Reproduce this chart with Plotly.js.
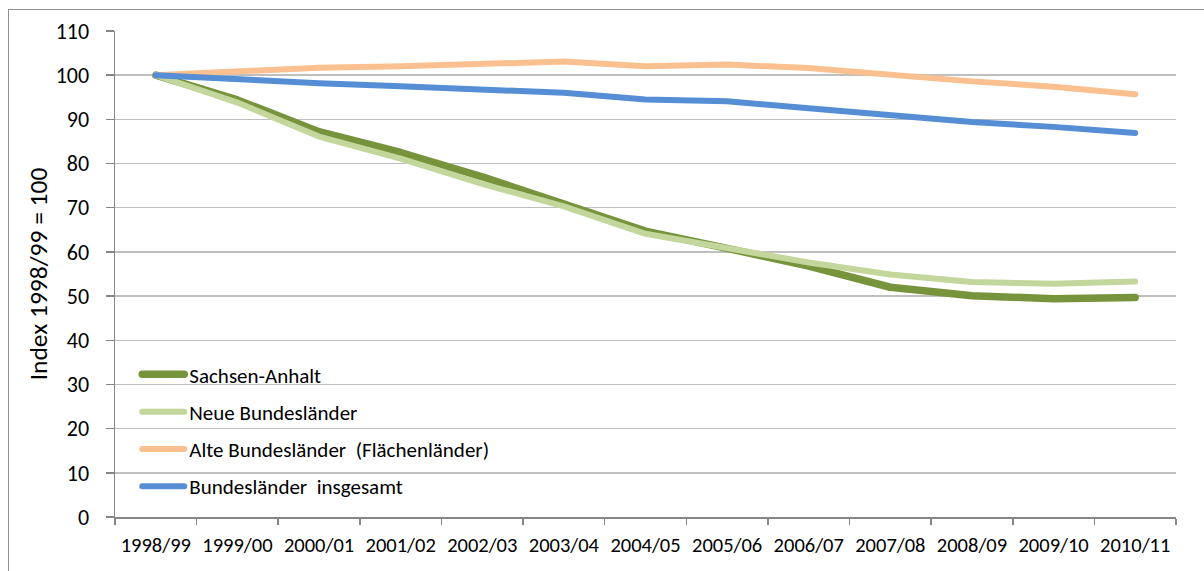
<!DOCTYPE html>
<html>
<head>
<meta charset="utf-8">
<script src="https://cdn.plot.ly/plotly-3.0.1.min.js"></script>
<style>
  html, body { margin: 0; padding: 0; background: #fff; }
  #wrap { position: relative; width: 1204px; height: 571px; overflow: hidden; }
  #chart { position: absolute; left: 0; top: 0; width: 1204px; height: 571px; }
  #frame { position: absolute; left: 8px; top: 9px; width: 1300px; height: 700px;
           border-left: 1.5px solid #909090; border-top: 1.5px solid #909090; pointer-events: none; }
  .scatterlayer .js-line, .legendlines path { stroke-linecap: round; stroke-linejoin: round; }
</style>
</head>
<body>
<div id="wrap">
  <div id="chart"></div>
  <div id="frame"></div>
</div>
<script>
const categories = ['1998/99','1999/00','2000/01','2001/02','2002/03','2003/04','2004/05','2005/06','2006/07','2007/08','2008/09','2009/10','2010/11'];
const sachsenAnhalt = [100, 94.4, 87.2, 82.5, 77.0, 71.0, 64.7, 60.8, 56.8, 52.0, 50.1, 49.4, 49.7];
const neueBundeslaender = [100, 93.8, 86.1, 81.1, 75.4, 70.3, 64.1, 61.0, 57.6, 54.9, 53.2, 52.8, 53.3];
const alteBundeslaender = [100, 101.0, 101.7, 102.0, 102.4, 103.1, 102.0, 102.4, 101.6, 100.0, 98.6, 97.4, 95.7];
const bundeslaenderGesamt = [100, 99.0, 98.2, 97.5, 96.8, 96.0, 94.5, 94.1, 92.5, 90.9, 89.4, 88.3, 86.9];
const seriesNames = ['Sachsen-Anhalt', 'Neue Bundesländer', 'Alte Bundesländer  (Flächenländer)', 'Bundesländer  insgesamt'];
const yTicks = [0, 10, 20, 30, 40, 50, 60, 70, 80, 90, 100, 110];

const FONT = 'Carlito, "Liberation Sans", Arial, sans-serif';
const seriesValues = [sachsenAnhalt, neueBundeslaender, alteBundeslaender, bundeslaenderGesamt];
const colors = ['#77933C', '#C3D69B', '#FAC090', '#558ED5'];
const widths = [7.5, 6, 6, 6];

const traces = seriesValues.map((vals, i) => ({
  type: 'scatter',
  mode: 'lines',
  x: categories,
  y: vals,
  name: seriesNames[i],
  legendgroup: 'g' + i,
  line: { color: colors[i], width: widths[i] },
  hoverinfo: 'skip'
}));

const layout = {
  width: 1204,
  height: 571,
  margin: { l: 115, r: 28, t: 31, b: 54 },
  paper_bgcolor: '#ffffff',
  plot_bgcolor: '#ffffff',
  font: { family: FONT, color: '#000000', size: 21 },
  showlegend: true,
  legend: {
    x: 0.021, xanchor: 'left',
    y: 0.335, yanchor: 'top',
    bgcolor: 'rgba(255,255,255,0)',
    traceorder: 'grouped',
    tracegroupgap: 7,
    itemwidth: 42,
    font: { family: FONT, size: 21, color: '#000' }
  },
  shapes: [{
    type: 'rect', xref: 'paper', yref: 'paper', layer: 'between',
    x0: 0.012, x1: 0.371, y0: 0.025, y1: 0.33,
    fillcolor: '#ffffff', line: { width: 0 }
  }],
  xaxis: {
    type: 'category',
    range: [-0.5, 12.5],
    showgrid: false,
    showline: true,
    linecolor: '#868686',
    linewidth: 1.5,
    ticks: 'outside',
    tickson: 'boundaries',
    ticklen: 6,
    tickcolor: '#868686',
    tickwidth: 1.5,
    tickangle: 0,
    ticklabelstandoff: 9,
    tickfont: { family: FONT, size: 20.5, color: '#000' },
    zeroline: false,
    fixedrange: true,
    automargin: false
  },
  yaxis: {
    range: [0, 110],
    tickvals: yTicks,
    ticktext: yTicks.map(String),
    showgrid: true,
    gridcolor: '#BFBFBF',
    gridwidth: 1.5,
    showline: true,
    linecolor: '#868686',
    linewidth: 1.5,
    ticks: 'outside',
    ticklen: 8,
    tickcolor: '#868686',
    tickwidth: 1.5,
    ticklabelstandoff: 12,
    tickfont: { family: FONT, size: 22, color: '#000' },
    zeroline: false,
    fixedrange: true,
    title: { text: 'Index 1998/99 = 100', font: { family: FONT, size: 25.5, color: '#000' }, standoff: 0 }
  }
};

Plotly.newPlot('chart', traces, layout, { displayModeBar: false, staticPlot: true });
</script>
</body>
</html>
